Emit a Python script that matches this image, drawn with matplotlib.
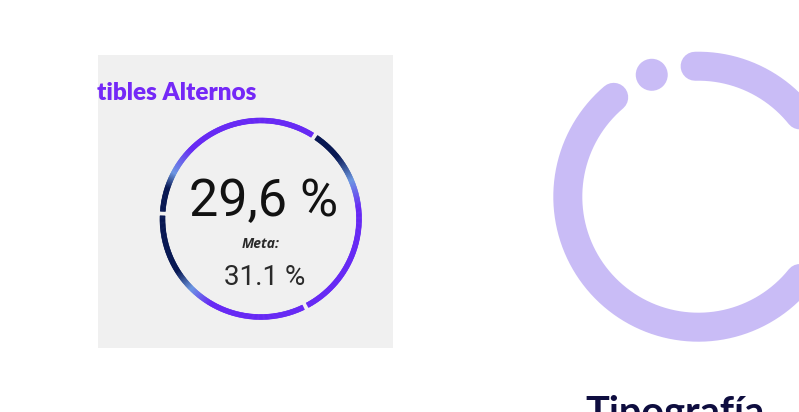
import numpy as np
import matplotlib
matplotlib.use("Agg")
import matplotlib.pyplot as plt
from matplotlib.collections import PolyCollection
from matplotlib.colors import to_rgb
from matplotlib.patches import Rectangle, Circle

# KPI card values
title_text = "tibles Alternos"
value_pct = 29.6
target_label = "Meta:"
target_pct = 31.1
side_label = "Tipografía"

# ring segments of the gauge (degrees, counter-clockwise from +x)
seg_dark_end = [177, 57, 177]
seg_other_end = [57, -63, 297]
seg_dark_frac = [0.12, 0.14, 0.29]
seg_blue_frac = [0.20, 0.28, 0.40]
seg_purple_frac = [0.35, 0.42, 0.52]

# decorative loader ring on the right
loader_arc_deg = [130.4, 451.4]
loader_dot_deg = 110.9

NAVY = "#041450"
LIGHT_BLUE = "#6a95e2"
PURPLE = "#6526f5"
TITLE_PURPLE = "#7428f7"
LAVENDER = "#c9bcf6"

W, H = 799, 412
fig = plt.figure(figsize=(W / 100, H / 100), dpi=100)
ax = fig.add_axes([0, 0, 1, 1])
ax.set_xlim(0, W)
ax.set_ylim(H, 0)
ax.axis("off")

# card background
panel = Rectangle((97.5, 55), 295.5, 293, facecolor="#f0f0f0", edgecolor="none")
ax.add_patch(panel)

t = ax.text(97, 100, title_text, fontsize=17.5, fontweight="heavy", family="Lato",
            color=TITLE_PURPLE, ha="left", va="baseline")
t.set_clip_path(panel)

# gradient ring, drawn as thin annular slices
cx, cy, r, ring_w = 260.75, 218.75, 98.25, 5.0
gap_half = 1.3
navy, blue, purple = (np.array(to_rgb(c)) for c in (NAVY, LIGHT_BLUE, PURPLE))
for a0, a1, fd, fb, fp in zip(seg_dark_end, seg_other_end, seg_dark_frac,
                              seg_blue_frac, seg_purple_frac):
    step = np.sign(a1 - a0)
    ang = np.radians(np.linspace(a0 + step * gap_half, a1 - step * gap_half, 240))
    ro, ri = r + ring_w / 2, r - ring_w / 2
    outer = np.column_stack([cx + ro * np.cos(ang), cy - ro * np.sin(ang)])
    inner = np.column_stack([cx + ri * np.cos(ang), cy - ri * np.sin(ang)])
    polys = [np.array([outer[i], outer[i + 1], inner[i + 1], inner[i]])
             for i in range(len(ang) - 1)]
    frac = np.linspace(0, 1, len(polys))
    stops = [0, fd, fb, fp, 1]
    cols = np.column_stack([
        np.interp(frac, stops, [navy[i], navy[i], blue[i], purple[i], purple[i]])
        for i in range(3)
    ])
    pc = PolyCollection(polys, facecolors=cols, edgecolors=cols, linewidths=0.4)
    ax.add_collection(pc)

fmt = lambda v, sep: f"{v:.1f}".replace(".", sep) + " %"
ax.text(264, 216, fmt(value_pct, ","), fontsize=37.5, family="Roboto",
        color="#121212", ha="center", va="baseline")
ax.text(261, 248, target_label, fontsize=10, family="Open Sans", fontweight="bold",
        style="italic", color="#2a2a2a", ha="center", va="baseline")
ax.text(264.5, 285, fmt(target_pct, "."), fontsize=20, family="Roboto",
        color="#2a2a2a", ha="center", va="baseline")

# loader ring
lx, ly, lr = 698.3, 196.7, 130.5
ang = np.radians(np.linspace(loader_arc_deg[0], loader_arc_deg[1], 400))
ax.plot(lx + lr * np.cos(ang), ly - lr * np.sin(ang), color=LAVENDER,
        lw=29 * 0.72, solid_capstyle="round")
da = np.radians(loader_dot_deg)
ax.add_patch(Circle((lx + lr * np.cos(da), ly - lr * np.sin(da)), 16,
                    facecolor=LAVENDER, edgecolor="none"))

ax.text(675, 424, side_label, fontsize=28.5, family="Lato", fontweight="bold",
        color="#0e0d3f", ha="center", va="baseline")

fig.savefig("out.png", dpi=100)
